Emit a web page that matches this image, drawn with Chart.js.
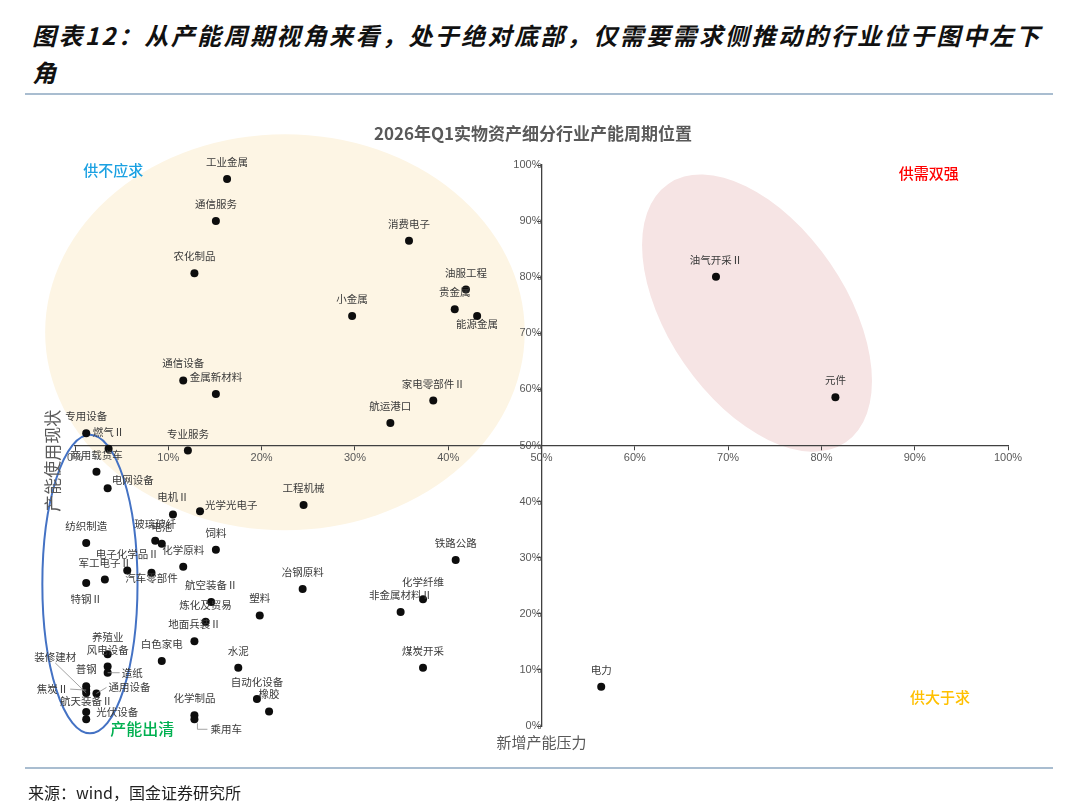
<!DOCTYPE html>
<html>
<head>
<meta charset="utf-8">
<script src="https://cdn.jsdelivr.net/npm/chart.js@4.4.1/dist/chart.umd.min.js"></script>
<style>
  html, body { margin: 0; padding: 0; background: #fff; }
  #wrap { position: relative; width: 1080px; height: 809px; overflow: hidden; font-family: "Noto Sans CJK SC", sans-serif; }
  #head { position: absolute; left: 32px; top: 16px; width: 1045px; font-size: 24px; font-weight: bold; font-style: italic; line-height: 37px; letter-spacing: 2.4px; color: #111; }
  .rule { position: absolute; left: 25px; width: 1028px; height: 2px; background: #a9bdd0; }
  #title { position: absolute; left: 0; width: 1066px; top: 120px; text-align: center; font-size: 17px; font-weight: bold; color: #595959; }
  #src { position: absolute; left: 28px; top: 780px; font-size: 16px; color: #222; }
  #box { position: absolute; left: 0; top: 0; width: 1080px; height: 809px; }
</style>
</head>
<body>
<div id="wrap">
  <div id="head">图表12：从产能周期视角来看，处于绝对底部，仅需要需求侧推动的行业位于图中左下<br>角</div>
  <div class="rule" style="top:93px"></div>
  <div id="box"><canvas id="capChart"></canvas></div>
  <div id="title">2026年Q1实物资产细分行业产能周期位置</div>
  <div class="rule" style="top:767px"></div>
  <div id="src">来源：wind，国金证券研究所</div>
</div>
<script>
// 行业
const industries = [
  "工业金属", "通信服务", "农化制品", "消费电子", "油服工程", "贵金属", "能源金属", "小金属",
  "家电零部件Ⅱ", "航运港口", "通信设备", "金属新材料", "专用设备", "专业服务", "燃气Ⅱ", "商用载货车",
  "电网设备", "电机Ⅱ", "光学光电子", "工程机械", "纺织制造", "玻璃玻纤", "电池", "饲料",
  "化学原料", "电子化学品Ⅱ", "军工电子Ⅱ", "特钢Ⅱ", "汽车零部件", "航空装备Ⅱ", "炼化及贸易", "地面兵装Ⅱ",
  "白色家电", "塑料", "冶钢原料", "水泥", "自动化设备", "橡胶", "化学制品", "乘用车",
  "铁路公路", "化学纤维", "非金属材料Ⅱ", "煤炭开采", "电力", "油气开采Ⅱ", "元件", "养殖业",
  "风电设备", "造纸", "普钢", "焦炭Ⅱ", "装修建材", "通用设备", "航天装备Ⅱ", "光伏设备"
];
// 新增产能压力 (%)
const newCapacity = [
  16.3, 15.1, 12.8, 35.8, 41.9, 40.7, 43.1, 29.7,
  38.4, 33.8, 11.6, 15.1, 1.2, 12.1, 3.6, 2.3,
  3.5, 10.5, 13.4, 24.5, 1.2, 8.6, 9.3, 15.1,
  11.6, 5.6, 3.2, 1.2, 8.2, 14.6, 14.0, 12.8,
  9.3, 19.8, 24.4, 17.5, 19.5, 20.8, 12.8, 12.8,
  40.8, 37.3, 34.9, 37.3, 56.4, 68.7, 81.5, 3.5,
  3.5, 3.5, 1.2, 1.2, 1.2, 2.3, 1.2, 1.2
];
// 产能使用现状 (%)
const utilization = [
  97.5, 90.0, 80.7, 86.5, 77.8, 74.3, 73.1, 73.1,
  58.0, 54.0, 61.6, 59.2, 52.2, 49.1, 49.4, 45.3,
  42.4, 37.7, 38.3, 39.4, 32.6, 33.0, 32.5, 31.4,
  28.4, 27.7, 26.1, 25.5, 27.3, 22.1, 18.6, 15.1,
  11.6, 19.7, 24.4, 10.4, 4.8, 2.6, 1.9, 1.2,
  29.6, 22.6, 20.3, 10.4, 7.0, 80.1, 58.6, 12.8,
  10.6, 9.5, 7.1, 6.4, 5.9, 5.8, 2.5, 1.2
];
const tickValues = [0, 10, 20, 30, 40, 50, 60, 70, 80, 90, 100];

// label placement relative to the dot (default: centred above)
const labelPlace = {
  "电网设备": { dx: 4, dy: -8, align: "left" },
  "光学光电子": { dx: 5, dy: -6, align: "left" },
  "特钢Ⅱ": { dy: 16 },
  "汽车零部件": { dy: 5 },
  "能源金属": { dy: 8 },
  "乘用车": { dx: 16, dy: 10, align: "left", leader: "elbow" },
  "造纸": { dx: 14, dy: 0, align: "left", leader: "line" },
  "装修建材": { dx: -31, dy: -36, leader: "line" },
  "焦炭Ⅱ": { dx: -18, dy: -1, align: "right", leader: "line" },
  "通用设备": { dx: 12, dy: -6, align: "left", leader: "line" },
  "航天装备Ⅱ": { dy: -11 },
  "光伏设备": { dx: 10, dy: -7, align: "left" }
};

const decor = {
  id: "decor",
  beforeDraw(chart) {
    const { ctx, scales: { x, y } } = chart;
    const ux = x.getPixelForValue(1) - x.getPixelForValue(0);
    const uy = y.getPixelForValue(0) - y.getPixelForValue(1);
    ctx.save();
    ctx.fillStyle = "#fdf5e4";
    ctx.beginPath();
    ctx.ellipse(x.getPixelForValue(22.5), y.getPixelForValue(70.2), 25.7 * ux, 35.3 * uy, 0, 0, Math.PI * 2);
    ctx.fill();
    ctx.fillStyle = "#f6e4e4";
    ctx.beginPath();
    ctx.ellipse(x.getPixelForValue(73.1), y.getPixelForValue(73.6), 16.8 * ux, 9.5 * ux, 55.5 * Math.PI / 180, 0, Math.PI * 2);
    ctx.fill();
    ctx.strokeStyle = "#4472c4";
    ctx.lineWidth = 2;
    ctx.beginPath();
    ctx.ellipse(x.getPixelForValue(1.6), y.getPixelForValue(25.3), 5.1 * ux, 26.6 * uy, 0, 0, Math.PI * 2);
    ctx.stroke();
    ctx.restore();
  },
  afterDraw(chart) {
    const { ctx, scales: { x, y } } = chart;
    ctx.save();
    ctx.textAlign = "center";
    ctx.textBaseline = "middle";
    ctx.font = '500 15px "Noto Sans CJK SC"';
    ctx.fillStyle = "#1ba1e2";
    ctx.fillText("供不应求", x.getPixelForValue(4.1), y.getPixelForValue(99.1));
    ctx.fillStyle = "#ff0000";
    ctx.fillText("供需双强", x.getPixelForValue(91.5), y.getPixelForValue(98.6));
    ctx.fillStyle = "#ffc000";
    ctx.fillText("供大于求", x.getPixelForValue(92.7), y.getPixelForValue(5.2));
    ctx.font = '500 16px "Noto Sans CJK SC"';
    ctx.fillStyle = "#00b050";
    ctx.fillText("产能出清", x.getPixelForValue(7.2), y.getPixelForValue(-0.5));
    // axis titles
    ctx.fillStyle = "#595959";
    ctx.font = '15px "Noto Sans CJK SC"';
    ctx.fillText("新增产能压力", x.getPixelForValue(50), y.getPixelForValue(-2.9));
    ctx.translate(53, y.getPixelForValue(47.3));
    ctx.rotate(-Math.PI / 2);
    ctx.font = '17px "Noto Sans CJK SC"';
    ctx.fillText("产能使用现状", 0, 0);
    ctx.restore();
  }
};

const pointLabels = {
  id: "pointLabels",
  afterDatasetsDraw(chart) {
    const { ctx } = chart;
    const meta = chart.getDatasetMeta(0);
    ctx.save();
    ctx.font = '10.5px "Noto Sans CJK SC"';
    ctx.fillStyle = "#3a3a3a";
    ctx.strokeStyle = "#8c8c8c";
    ctx.lineWidth = 0.8;
    ctx.textBaseline = "middle";
    meta.data.forEach((pt, i) => {
      const o = Object.assign({ dx: 0, dy: -17, align: "center" }, labelPlace[industries[i]] || {});
      const lx = pt.x + o.dx, ly = pt.y + o.dy;
      if (o.leader === "elbow") {
        ctx.beginPath();
        ctx.moveTo(pt.x + 3, pt.y + 4);
        ctx.lineTo(pt.x + 3, ly);
        ctx.lineTo(lx - 3, ly);
        ctx.stroke();
      } else if (o.leader === "line") {
        let ex = lx, ey = ly;
        if (o.align === "left") ex = lx - 2;
        else if (o.align === "right") ex = lx + 2;
        else ey = ly + 6;
        ctx.beginPath();
        ctx.moveTo(pt.x, pt.y);
        ctx.lineTo(ex, ey);
        ctx.stroke();
      }
      ctx.textAlign = o.align;
      ctx.fillText(industries[i], lx, ly);
    });
    ctx.restore();
  }
};

const axisStyle = {
  type: "linear",
  min: 0,
  max: 100,
  afterBuildTicks: (scale) => { scale.ticks = tickValues.map((v) => ({ value: v })); },
  grid: { drawOnChartArea: false, drawTicks: true, tickLength: 4, color: "#404040", lineWidth: 1 },
  border: { display: true, color: "#404040", width: 1.3 }
};

const ctx = document.getElementById("capChart").getContext("2d");
const chart = new Chart(ctx, {
  type: "scatter",
  data: {
    datasets: [
      {
        label: "行业",
        data: industries.map((n, i) => ({ x: newCapacity[i], y: utilization[i] })),
        backgroundColor: "#0d0d0d",
        borderWidth: 0,
        pointRadius: 4,
      },
    ],
  },
  options: {
    responsive: true,
    maintainAspectRatio: false,
    animation: false,
    layout: { padding: { left: 75, right: 72, top: 165, bottom: 83 } },
    scales: {
      x: Object.assign({}, axisStyle, {
        position: { y: 50 },
        ticks: { callback: (v) => v + "%", color: "#595959", font: { family: '"Liberation Sans"', size: 11 }, padding: 2, maxRotation: 0, autoSkip: false },
      }),
      y: Object.assign({}, axisStyle, {
        position: { x: 50 },
        ticks: { callback: (v) => v + "%", color: "#595959", font: { family: '"Liberation Sans"', size: 11 }, padding: 6, autoSkip: false },
      }),
    },
    plugins: {
      legend: { display: false },
      title: { display: false },
      tooltip: { enabled: false },
    },
  },
  plugins: [decor, pointLabels],
});
</script>
</body>
</html>
